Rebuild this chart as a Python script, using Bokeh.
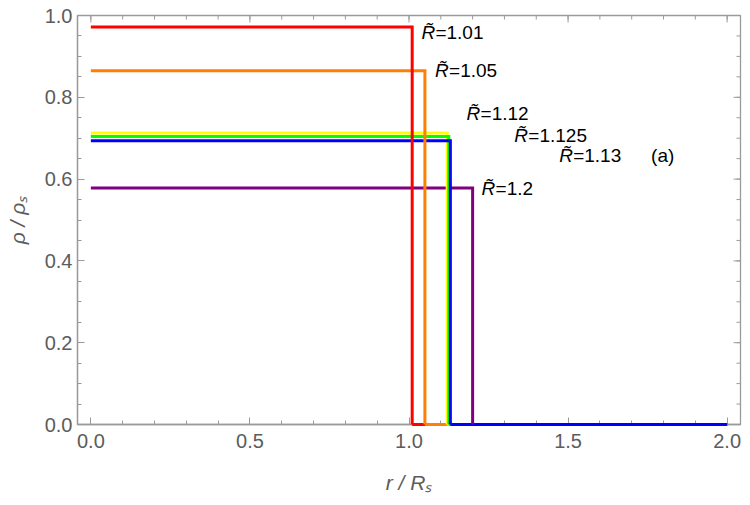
import math
from bokeh.plotting import figure
from bokeh.models import Range1d, FixedTicker, PrintfTickFormatter
from bokeh.core.properties import value
from bokeh.embed import file_html
from bokeh.resources import INLINE

# data
radii = [1.01, 1.05, 1.12, 1.125, 1.13, 1.2]
rho = [0.972, 0.865, 0.713, 0.704, 0.694, 0.578]
colors = ["#ff0000", "#ff8000", "#ffff00", "#00ff00", "#0000ff", "#800080"]
label_values = ["=1.01", "=1.05", "=1.12", "=1.125", "=1.13", "=1.2"]
label_x = [1.039, 1.082, 1.181, 1.331, 1.472, 1.228]
label_y = [0.958, 0.866, 0.760, 0.707, 0.658, 0.577]
panel_label = "(a)"
panel_x = 1.761
panel_y = 0.658
x_end = 2.0
x_ticks = [0.0, 0.5, 1.0, 1.5, 2.0]
y_ticks = [0.0, 0.2, 0.4, 0.6, 0.8, 1.0]
x_minor = [round(0.1 * i, 2) for i in range(21)]
y_minor = [round(0.05 * i, 2) for i in range(21)]

GRAY = "#9a9a9a"
TICKTXT = "#5c5c5c"
FONT = "Liberation Sans"

xr = Range1d(-0.042, 2.042)
yr = Range1d(0, 1)
p = figure(frame_width=663, frame_height=409, width=750, height=505,
           x_range=xr, y_range=yr,
           output_backend="svg", toolbar_location=None,
           min_border_left=77, min_border_top=15, min_border_right=10,
           min_border_bottom=81)
p.background_fill_color = "white"
p.border_fill_color = "white"
p.xgrid.visible = False
p.ygrid.visible = False
p.outline_line_color = GRAY
p.outline_line_width = 1.3


def style_axis(ax, ticks, minor):
    ax.ticker = FixedTicker(ticks=ticks, minor_ticks=minor)
    ax.formatter = PrintfTickFormatter(format="%.1f")
    ax.axis_line_color = GRAY
    ax.axis_line_width = 1.3
    ax.major_tick_line_color = GRAY
    ax.minor_tick_line_color = GRAY
    ax.major_tick_in = 7
    ax.major_tick_out = 0
    ax.minor_tick_in = 4
    ax.minor_tick_out = 0
    ax.major_label_text_font = FONT
    ax.major_label_text_color = TICKTXT
    ax.major_label_text_font_size = "20px"
    ax.axis_label_text_font = FONT
    ax.axis_label_text_font_style = "italic"
    ax.axis_label_text_color = TICKTXT
    ax.axis_label_text_font_size = "21px"


style_axis(p.xaxis[0], x_ticks, x_minor)
style_axis(p.yaxis[0], y_ticks, y_minor)
p.xaxis[0].major_label_standoff = 9
p.yaxis[0].major_label_standoff = 5
p.xaxis.axis_label = "r / Rₛ"
p.yaxis.axis_label = "ρ / ρₛ"
p.xaxis[0].axis_label_standoff = 20
p.yaxis[0].axis_label_standoff = 13

# inward ticks on the top and right frame edges
p.ray(x=x_ticks, y=yr.end, length=7, length_units="screen", angle=-math.pi / 2,
      line_color=GRAY, line_width=1)
p.ray(x=x_minor, y=yr.end, length=4, length_units="screen", angle=-math.pi / 2,
      line_color=GRAY, line_width=1)
p.ray(x=xr.end, y=y_ticks, length=7, length_units="screen", angle=math.pi,
      line_color=GRAY, line_width=1)
p.ray(x=xr.end, y=y_minor, length=4, length_units="screen", angle=math.pi,
      line_color=GRAY, line_width=1)

# bottom segments (blue last, on top)
bottom_order = [0, 1, 2, 3, 5, 4]
for i in bottom_order:
    r = p.line([radii[i], x_end], [0, 0], line_color=colors[i], line_width=3)
    r.level = "overlay"

# plateau + drop; red and orange on top
top_order = [5, 2, 3, 4, 1, 0]
for i in top_order:
    r = p.line([0, radii[i], radii[i]], [rho[i], rho[i], 0],
               line_color=colors[i], line_width=3, line_join="miter")
    r.level = "overlay"

# labels
p.text(x=label_x, y=label_y, text=["R\u0303"] * len(label_x),
       text_font=value(FONT), text_font_style="italic", text_font_size="19px",
       text_color="black", text_align="left", text_baseline="middle")
p.text(x=label_x, y=label_y, text=label_values, x_offset=14,
       text_font=value(FONT), text_font_size="19px",
       text_color="black", text_align="left", text_baseline="middle")
p.text(x=[panel_x], y=[panel_y], text=[panel_label],
       text_font=value(FONT), text_font_size="19px",
       text_color="black", text_align="left", text_baseline="middle")

open("out.html", "w").write(file_html(p, INLINE))
